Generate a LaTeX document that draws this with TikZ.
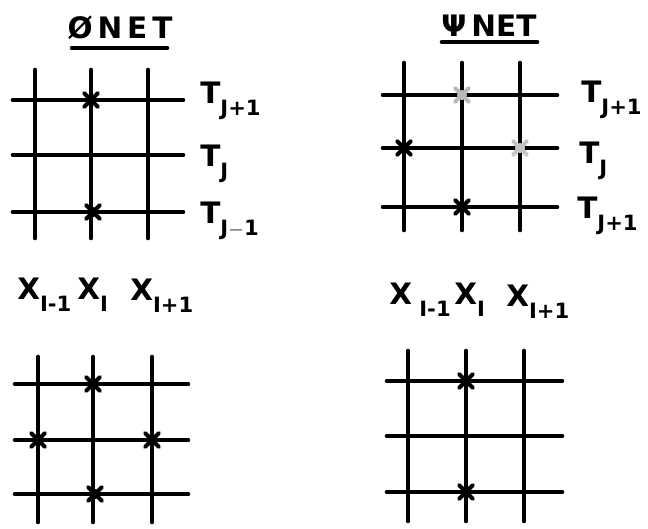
\documentclass[tikz,border=0pt]{standalone}
\usepackage{fontspec}
\setmainfont{DejaVu Sans}
\usetikzlibrary{positioning}

% lowered subscript, hand-lettered look
\newcommand{\lowsub}[1]{\raisebox{-0.42em}{\fontsize{15}{15}\selectfont #1}}

\tikzset{
  gridline/.style={line width=3.3pt, line cap=round},
  lbl/.style={font=\fontsize{21}{24}\selectfont\bfseries, inner sep=0pt},
  title/.style={font=\fontsize{21}{24}\selectfont\bfseries, inner sep=0pt},
  xmark/.pic={\draw[line width=2.8pt, line cap=round] (-7,-7) -- (7,7) (-7,7) -- (7,-7);
              \fill (0,0) circle (3.6pt);}
}

\begin{document}
\begin{tikzpicture}[x=0.025cm, y=-0.025cm]
    \useasboundingbox (0,0) rectangle (648,528);

    % Titles
    \node[title] (phititle) at (120,28) {Ø\,N\,E\,T};
    \draw[gridline] (72,48) -- (167,48);
    \node[title] (psititle) at (489,26) {Ψ\,NET};
    \draw[gridline] (442,42) -- (537,42);

    % Phi net, top
    \foreach \x in {35,91,148} \draw[gridline] (\x,70) -- (\x,238);
    \foreach \y in {100,155,212} \draw[gridline] (13,\y) -- (183,\y);
    \pic at (91,100) {xmark};
    \pic at (93,212) {xmark};
    \node[lbl, anchor=base west] (phitup) at (200,103) {T\lowsub{J+1}};
    \node[lbl, anchor=base west] (phitmid) at (200,166) {T\lowsub{J}};
    \node[lbl, anchor=base west] (phitlow) at (200,223) {T\lowsub{J$-$1}};

    % Psi net, top
    \foreach \x in {404,462,520} \draw[gridline] (\x,63) -- (\x,230);
    \foreach \y in {95,148,207} \draw[gridline] (383,\y) -- (557,\y);
    \pic[gray!55] at (462,95) {xmark};
    \pic at (404,148) {xmark};
    \pic[gray!45] at (520,148) {xmark};
    \pic at (462,207) {xmark};
    \node[lbl, anchor=base west] (psitup) at (581,102) {T\lowsub{J+1}};
    \node[lbl, anchor=base west] (psitmid) at (579,163) {T\lowsub{J}};
    \node[lbl, anchor=base west] (psitlow) at (577,218) {T\lowsub{J+1}};

    % X labels
    \node[lbl, anchor=base west] (phixl) at (17,299) {X\lowsub{I-1}};
    \node[lbl, anchor=base west] (phixm) at (77,299) {X\lowsub{I}};
    \node[lbl, anchor=base west] (phixr) at (130,300) {X\lowsub{I+1}};
    \node[lbl, anchor=base west] (psixl) at (389,304) {X\lowsub{~I-1}};
    \node[lbl, anchor=base west] (psixm) at (454,304) {X\lowsub{I}};
    \node[lbl, anchor=base west] (psixr) at (506,306) {X\lowsub{I+1}};

    % Phi net, bottom
    \foreach \x in {38,93,152} \draw[gridline] (\x,357) -- (\x,522);
    \foreach \y in {384,440,494} \draw[gridline] (15,\y) -- (188,\y);
    \pic at (93,384) {xmark};
    \pic at (38,440) {xmark};
    \pic at (152,440) {xmark};
    \pic at (95,494) {xmark};

    % Psi net, bottom
    \foreach \x in {408,466,524} \draw[gridline] (\x,351) -- (\x,521);
    \foreach \y in {381,436,492} \draw[gridline] (387,\y) -- (562,\y);
    \pic at (466,381) {xmark};
    \pic at (466,492) {xmark};
\end{tikzpicture}
\end{document}
